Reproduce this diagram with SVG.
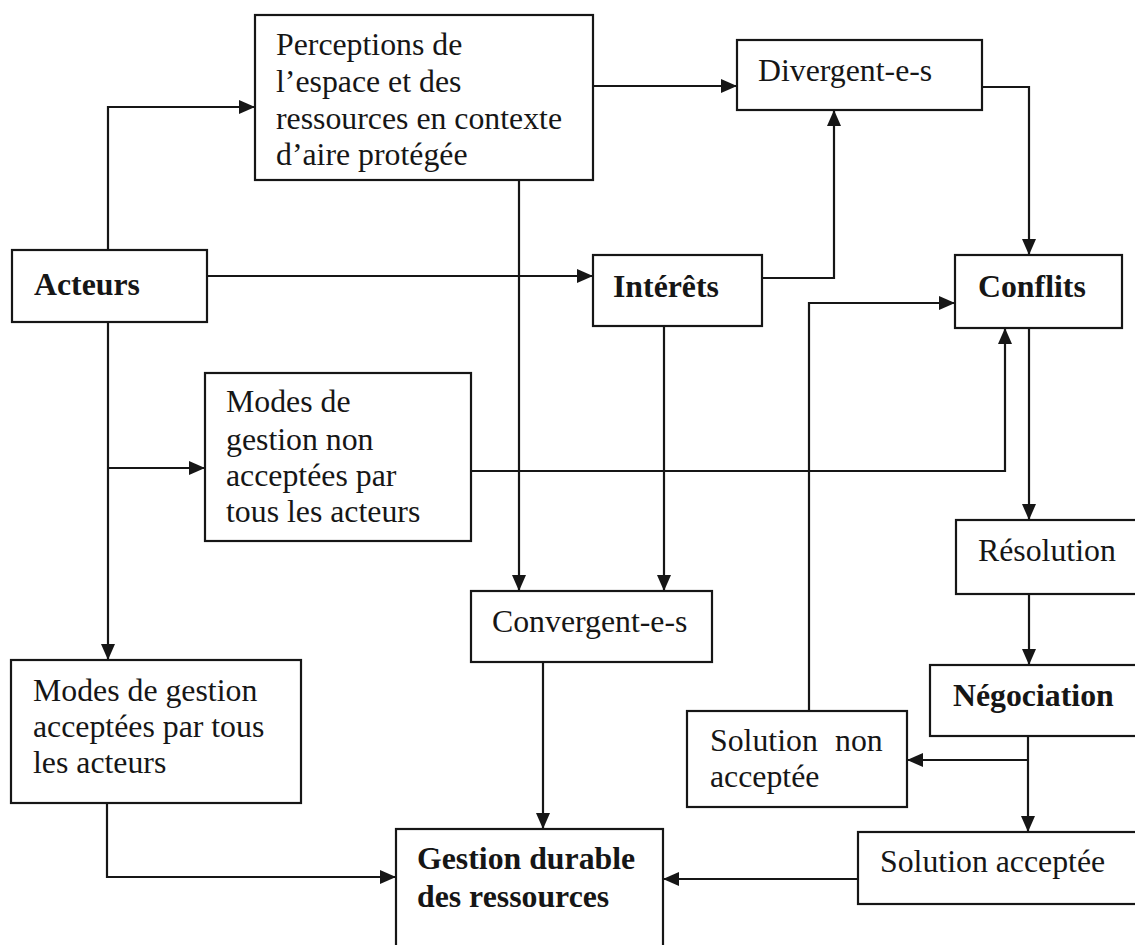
<svg xmlns="http://www.w3.org/2000/svg" width="1135" height="945" viewBox="0 0 1135 945">
  <defs>
    <marker id="arrow" markerUnits="userSpaceOnUse" markerWidth="16" markerHeight="14" refX="16" refY="7" orient="auto">
      <path d="M0,0 L16,7 L0,14 z" fill="#161616"/>
    </marker>
  </defs>
  <style>
    .box rect { fill: #ffffff; stroke: #161616; stroke-width: 2.2; }
    .box text { font-family: "Liberation Serif", "Times New Roman", serif; font-size: 31.8px; fill: #161616; }
    .box text.b { font-weight: bold; }
    #connectors path { fill: none; stroke: #161616; stroke-width: 2.2; marker-end: url(#arrow); }
  </style>
  <rect width="1135" height="945" fill="#ffffff"/>

  <!-- connectors -->
  <g id="connectors">
    <path d="M108,250 V107 H255"/>
    <path d="M593,86 H737"/>
    <path d="M982,87 H1029 V255"/>
    <path d="M207,276 H593"/>
    <path d="M762,278 H834 V110"/>
    <path d="M519,180 V591"/>
    <path d="M664,326 V591"/>
    <path d="M108,322 V660"/>
    <path d="M108,468 H205"/>
    <path d="M471,471 H1005 V328"/>
    <path d="M1029,328 V520"/>
    <path d="M1029,594 V665"/>
    <path d="M1028,736 V832"/>
    <path d="M1028,760 H907"/>
    <path d="M809,711 V303 H955"/>
    <path d="M543,662 V829"/>
    <path d="M107,803 V877 H396"/>
    <path d="M858,879 H663"/>
  </g>

  <!-- nodes -->
  <g id="perceptions" class="box">
    <rect x="255" y="15" width="338" height="165"/>
    <text x="276" y="55">Perceptions de</text>
    <text x="276" y="92">l’espace et des</text>
    <text x="276" y="129">ressources en contexte</text>
    <text x="276" y="165">d’aire protégée</text>
  </g>
  <g id="divergent" class="box">
    <rect x="737" y="40" width="245" height="70"/>
    <text x="758" y="81">Divergent-e-s</text>
  </g>
  <g id="acteurs" class="box">
    <rect x="12" y="250" width="195" height="72"/>
    <text class="b" x="34" y="295">Acteurs</text>
  </g>
  <g id="interets" class="box">
    <rect x="593" y="255" width="169" height="71"/>
    <text class="b" x="613" y="297">Intérêts</text>
  </g>
  <g id="conflits" class="box">
    <rect x="955" y="255" width="167" height="73"/>
    <text class="b" x="978" y="297">Conflits</text>
  </g>
  <g id="modes-non" class="box">
    <rect x="205" y="373" width="266" height="168"/>
    <text x="226" y="412">Modes de</text>
    <text x="226" y="450">gestion non</text>
    <text x="226" y="486">acceptées par</text>
    <text x="226" y="522">tous les acteurs</text>
  </g>
  <g id="resolution" class="box">
    <rect x="956" y="520" width="190" height="74"/>
    <text x="978" y="561">Résolution</text>
  </g>
  <g id="convergent" class="box">
    <rect x="471" y="591" width="241" height="71"/>
    <text x="492" y="632">Convergent-e-s</text>
  </g>
  <g id="modes-acceptees" class="box">
    <rect x="11" y="660" width="290" height="143"/>
    <text x="33" y="701">Modes de gestion</text>
    <text x="33" y="737">acceptées par tous</text>
    <text x="33" y="773">les acteurs</text>
  </g>
  <g id="negociation" class="box">
    <rect x="930" y="665" width="216" height="71"/>
    <text class="b" x="953" y="706">Négociation</text>
  </g>
  <g id="solution-non" class="box">
    <rect x="687" y="711" width="220" height="96"/>
    <text x="710" y="751">Solution <tspan x="835">non</tspan></text>
    <text x="710" y="787">acceptée</text>
  </g>
  <g id="solution-acceptee" class="box">
    <rect x="858" y="832" width="288" height="72"/>
    <text x="880" y="872">Solution acceptée</text>
  </g>
  <g id="gestion" class="box">
    <rect x="396" y="829" width="267" height="130"/>
    <text class="b" x="417" y="869">Gestion durable</text>
    <text class="b" x="417" y="907">des ressources</text>
  </g>
</svg>
